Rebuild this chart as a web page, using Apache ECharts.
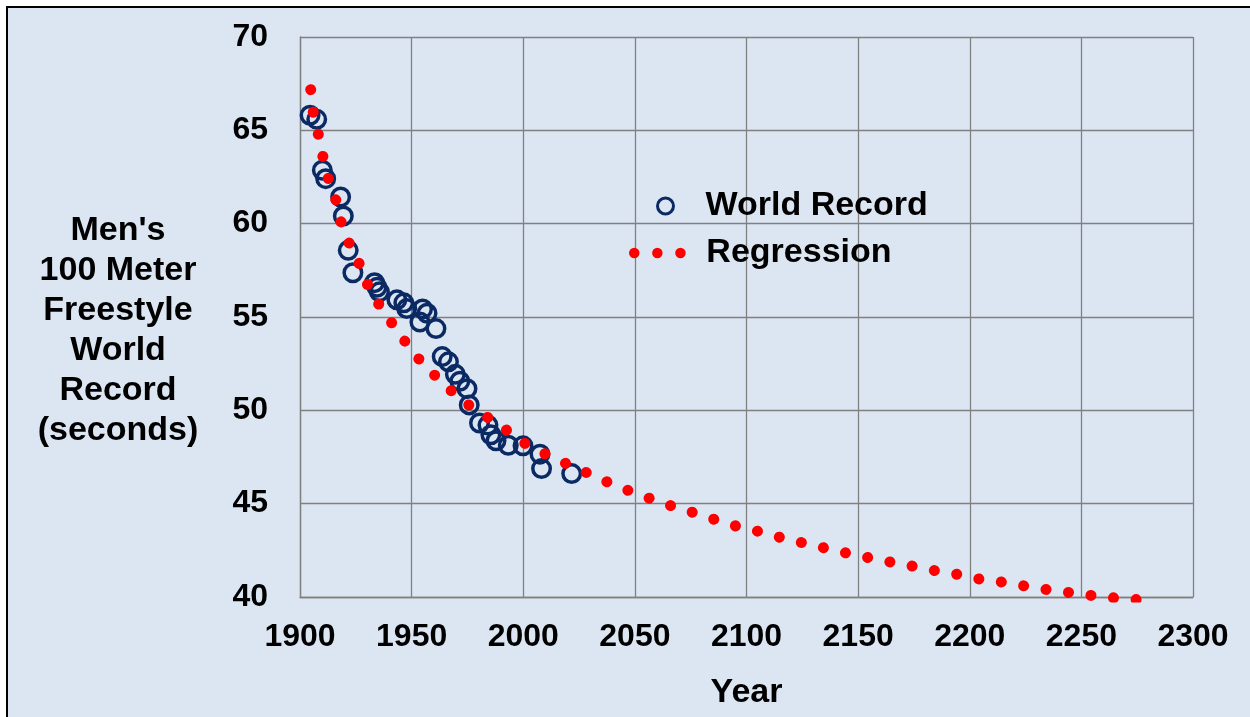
<!DOCTYPE html>
<html>
<head>
<meta charset="utf-8">
<script src="https://cdn.jsdelivr.net/npm/echarts@6/dist/echarts.min.js"></script>
<style>
html,body{margin:0;padding:0;background:#fff;}
#chart{width:1250px;height:717px;}
</style>
</head>
<body>
<div id="chart"></div>
<script>
// World record data (year, seconds)
const wrYears = [1904.5, 1907.5, 1910.0, 1911.5, 1918.2, 1919.4, 1921.6, 1923.7, 1933.4, 1934.5, 1935.6, 1943.4, 1946.5, 1947.8, 1953.7, 1954.9, 1956.9, 1960.9, 1963.7, 1966.5, 1969.6, 1971.6, 1974.8, 1975.8, 1980.4, 1984.2, 1985.5, 1987.8, 1993.3, 1999.9, 2007.5, 2008.2, 2021.7];
const wrTimes = [65.81, 65.59, 62.86, 62.41, 61.43, 60.41, 58.57, 57.37, 56.84, 56.59, 56.35, 55.92, 55.76, 55.45, 54.73, 55.43, 55.20, 54.38, 52.88, 52.60, 51.93, 51.56, 51.16, 50.29, 49.32, 49.21, 48.69, 48.37, 48.13, 48.10, 47.65, 46.88, 46.61];

// Regression trendline
const regYears = [1904.8, 1906.0, 1908.2, 1910.3, 1912.7, 1916.0, 1918.4, 1922.1, 1926.4, 1930.1, 1935.4, 1941.1, 1947.0, 1953.4, 1960.5, 1967.9, 1975.8, 1984.2, 1992.6, 2000.8, 2009.9, 2019.1, 2028.6, 2037.8, 2047.2, 2056.7, 2066.4, 2076.0, 2085.5, 2095.3, 2105.2, 2114.9, 2124.9, 2134.8, 2144.6, 2154.5, 2164.2, 2174.5, 2184.5, 2194.5, 2204.3, 2214.5, 2224.5, 2234.5, 2244.5, 2254.6, 2264.8, 2274.8];
const regTimes = [67.18, 65.90, 64.79, 63.57, 62.41, 61.29, 60.09, 58.93, 57.89, 56.77, 55.66, 54.68, 53.70, 52.73, 51.86, 51.03, 50.27, 49.61, 48.93, 48.22, 47.66, 47.15, 46.65, 46.15, 45.70, 45.28, 44.88, 44.53, 44.16, 43.80, 43.52, 43.20, 42.91, 42.63, 42.36, 42.11, 41.88, 41.65, 41.41, 41.21, 40.96, 40.80, 40.59, 40.40, 40.24, 40.08, 39.95, 39.86];

const xTicks = {min: 1900, max: 2300, interval: 50};
const yTicks = {min: 40, max: 70, interval: 5};
const seriesNames = ['World Record', 'Regression'];
const xTitle = 'Year';
const yTitle = "Men's\n100 Meter\nFreestyle\nWorld\nRecord\n(seconds)";

const FONT = "'Liberation Sans', Arial, sans-serif";
const NAVY = '#0b2a64';
const RED = '#ff0000';
const GRIDC = '#808080';

const wrData = wrYears.map((y, i) => [y, wrTimes[i]]);
const regData = regYears.map((y, i) => [y, regTimes[i]]);

const chart = echarts.init(document.getElementById('chart'), null, {renderer: 'canvas'});
chart.setOption({
  animation: false,
  backgroundColor: '#ffffff',
  graphic: [{
    type: 'rect', z: -10, silent: true,
    shape: {x: 7, y: 7, width: 1400, height: 900},
    style: {fill: '#DCE6F2', stroke: '#000000', lineWidth: 2}
  }, {
    type: 'text', z: 5, silent: true, x: 118, y: 331,
    style: {text: yTitle, font: "bold 34px " + FONT, fill: '#000', align: 'center', verticalAlign: 'middle', lineHeight: 40}
  }],
  grid: {left: 300, right: 57, top: 37, bottom: 120, containLabel: false, outerBoundsMode: 'none'},
  xAxis: {
    type: 'value', min: xTicks.min, max: xTicks.max, interval: xTicks.interval,
    name: xTitle, nameLocation: 'middle', nameGap: 79,
    nameTextStyle: {fontFamily: FONT, fontSize: 34, fontWeight: 'bold', color: '#000'},
    axisLine: {show: true, lineStyle: {color: GRIDC, width: 1.3}},
    axisTick: {show: false},
    splitLine: {show: true, lineStyle: {color: GRIDC, width: 1.3}},
    axisLabel: {fontFamily: FONT, fontSize: 32, fontWeight: 'bold', color: '#000', margin: 24,
      formatter: v => String(v)}
  },
  yAxis: {
    type: 'value', min: yTicks.min, max: yTicks.max, interval: yTicks.interval,
    axisLine: {show: true, lineStyle: {color: GRIDC, width: 1.3}},
    axisTick: {show: false},
    splitLine: {show: true, lineStyle: {color: GRIDC, width: 1.3}},
    axisLabel: {fontFamily: FONT, fontSize: 32, fontWeight: 'bold', color: '#000', margin: 32,
      formatter: v => String(v)}
  },
  legend: [{
    data: [{name: seriesNames[0], icon: 'circle', itemStyle: {color: 'rgba(0,0,0,0)', borderColor: NAVY, borderWidth: 3}}],
    left: 656, top: 189, padding: 0, itemWidth: 70, itemHeight: 16, symbolKeepAspect: true,
    selectedMode: false,
    textStyle: {fontFamily: FONT, fontSize: 34, fontWeight: 'bold', color: '#000'}
  }, {
    data: [{name: seriesNames[1], icon: 'path://M0,5a5,5 0 1,0 10,0a5,5 0 1,0 -10,0ZM22,5a5,5 0 1,0 10,0a5,5 0 1,0 -10,0ZM44,5a5,5 0 1,0 10,0a5,5 0 1,0 -10,0Z', itemStyle: {color: RED, borderWidth: 0}}],
    left: 629, top: 236, padding: 0, itemWidth: 88, itemHeight: 10.5, symbolKeepAspect: true,
    selectedMode: false,
    textStyle: {fontFamily: FONT, fontSize: 34, fontWeight: 'bold', color: '#000'}
  }],
  series: [{
    name: seriesNames[0], type: 'scatter', data: wrData, z: 2,
    symbol: 'circle', symbolSize: 17.5,
    itemStyle: {color: 'rgba(0,0,0,0)', borderColor: NAVY, borderWidth: 3.5, opacity: 1},
    emphasis: {disabled: true}
  }, {
    name: seriesNames[1], type: 'line', data: regData, z: 3,
    symbol: 'none', showSymbol: false, clip: true, smooth: false,
    itemStyle: {color: RED},
    lineStyle: {color: RED, width: 11, type: [0.01, 22.65], cap: 'round', join: 'round'},
    emphasis: {disabled: true}, silent: true
  }]
});
</script>
</body>
</html>
